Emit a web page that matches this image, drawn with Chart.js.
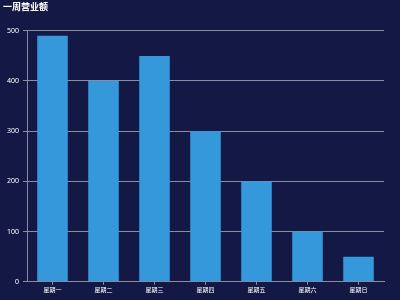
<!DOCTYPE html>
<html>
<head>
<meta charset="utf-8">
<script src="https://cdn.jsdelivr.net/npm/chart.js@4"></script>
<style>
	html, body { margin: 0; padding: 0; background: #141845; }
	#wrap { width: 400px; height: 300px; }
</style>
</head>
<body>
<div id="wrap"><canvas id="myChart"></canvas></div>
<script>
/* data */
const days = ['星期一', '星期二', '星期三', '星期四', '星期五', '星期六', '星期日'];
const revenue = [490, 400, 450, 300, 200, 100, 50];
const yTicks = [0, 100, 200, 300, 400, 500];

const bgPlugin = {
	id: 'bg',
	beforeDraw(chart) {
		const c = chart.ctx;
		c.save();
		c.fillStyle = '#141845';
		c.fillRect(0, 0, chart.width, chart.height);
		c.restore();
	}
};

new Chart(document.getElementById('myChart'), {
	type: 'bar',
	data: {
		labels: days,
		datasets: [{
			label: '营业额',
			data: revenue,
			backgroundColor: '#3498db',
			borderWidth: 0,
			barPercentage: 0.6,
			categoryPercentage: 1
		}]
	},
	options: {
		responsive: true,
		maintainAspectRatio: false,
		animation: false,
		layout: { padding: { left: 3, right: 16, top: 0, bottom: 6 } },
		plugins: {
			legend: { display: false },
			tooltip: { enabled: false },
			title: {
				display: true,
				text: '一周营业额',
				align: 'start',
				color: '#ffffff',
				font: { family: 'Noto Sans CJK SC', size: 9, weight: 'bold' },
				padding: { top: 1, bottom: 19 }
			}
		},
		scales: {
			x: {
				grid: { display: true, drawOnChartArea: false, color: '#8a8ca3', tickLength: 3, offset: false },
				border: { color: '#8a8ca3', width: 1 },
				ticks: { color: '#ffffff', font: { family: 'Noto Sans CJK SC', size: 6 }, padding: 1 }
			},
			y: {
				min: 0,
				max: 500,
				afterBuildTicks(axis) { axis.ticks = yTicks.map(v => ({ value: v })); },
				grid: { color: '#8a8ca3', tickLength: 4 },
				border: { color: '#8a8ca3', width: 1 },
				ticks: { color: '#ffffff', font: { family: 'Noto Sans', size: 7 }, padding: 4 }
			}
		}
	},
	plugins: [bgPlugin]
});
</script>
</body>
</html>
